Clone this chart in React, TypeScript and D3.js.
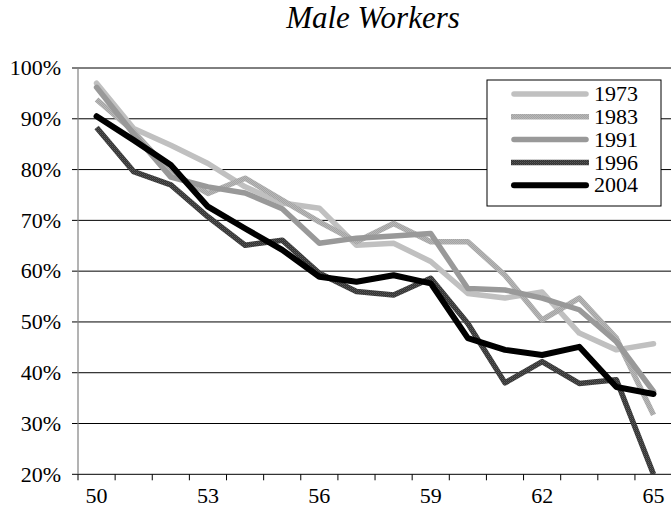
import React from "react";
import * as d3 from "d3";

const ages = [50, 51, 52, 53, 54, 55, 56, 57, 58, 59, 60, 61, 62, 63, 64, 65];
const ageLabels = [50, 53, 56, 59, 62, 65];
const yTicks = [20, 30, 40, 50, 60, 70, 80, 90, 100];

const s1973 = [97, 88.1, 84.8, 81.2, 76.6, 73.4, 72.4, 65.1, 65.5, 61.9, 55.6, 54.7, 55.9, 47.8, 44.5, 45.7];
const s1983 = [93.8, 87.5, 79.5, 75.3, 78.3, 74, 69.7, 65.8, 69.4, 65.8, 65.8, 59.2, 50.4, 54.7, 46.8, 31.7];
const s1991 = [96.2, 87, 78.5, 76.6, 75.4, 72.3, 65.5, 66.5, 66.9, 67.4, 56.6, 56.3, 54.7, 52.4, 46.1, 36.3];
const s1996 = [88.3, 79.6, 77, 70.7, 65.1, 66.1, 59.6, 56, 55.3, 58.6, 49.7, 38, 42.2, 37.9, 38.6, 20];
const s2004 = [90.5, 85.8, 80.9, 72.7, 68.4, 64.2, 58.9, 57.9, 59.2, 57.6, 46.8, 44.5, 43.5, 45.1, 37.2, 35.8];

const seriesNames = ["1973", "1983", "1991", "1996", "2004"];
const seriesData = [s1973, s1983, s1991, s1996, s2004];

const styles = [
  { stroke: "#c0c0c0", cap: "round", w: 5.5 },
  { stroke: "url(#pat1983)", cap: "butt", w: 5.5 },
  { stroke: "#999999", cap: "round", w: 5.5 },
  { stroke: "url(#pat1996)", cap: "butt", w: 5.5 },
  { stroke: "#000000", cap: "round", w: 6 },
];

const FONT = "Liberation Serif, Times New Roman, Times, serif";

export default function App() {
  const W = 671, H = 521;
  const left = 78, right = 78 + 16 * 37.13, top = 68, bottom = 474.3;
  const x = d3.scaleBand<number>().domain(ages).range([left, right]).paddingInner(0).paddingOuter(0);
  const y = d3.scaleLinear().domain([20, 100]).range([bottom, top]);
  const cx = (a: number) => (x(a) as number) + x.bandwidth() / 2;
  const line = d3.line<number>().x((_, i) => cx(ages[i])).y((v) => y(v)).curve(d3.curveLinear);
  const bounds = [...ages.map((a) => x(a) as number), right];

  const legX = 487, legY = 80, legW = 174, legH = 126;
  const rowY = (i: number) => 94 + i * 22.8;
  const tstyle = { fontFamily: FONT };

  return (
    <svg width={W} height={H} style={{ position: "absolute", left: 0, top: 0, background: "#fff", fontFamily: FONT }}>
      <defs>
        <pattern id="pat1983" patternUnits="userSpaceOnUse" width="2" height="2">
          <rect width="2" height="2" fill="#b8b8b8" />
          <rect width="1" height="1" fill="#a4a4a4" />
          <rect x="1" y="1" width="1" height="1" fill="#a4a4a4" />
        </pattern>
        <pattern id="pat1996" patternUnits="userSpaceOnUse" width="2" height="2">
          <rect width="2" height="2" fill="#333333" />
          <rect width="1" height="1" fill="#5a5a5a" />
          <rect x="1" y="1" width="1" height="1" fill="#474747" />
        </pattern>
        <clipPath id="plotClip">
          <rect x={left} y={0} width={W - left} height={bottom} />
        </clipPath>
      </defs>
      <rect width={W} height={H} fill="#fff" />
      <text x={373} y={28} textAnchor="middle" fontSize={31} fontStyle="italic" fill="#000" style={tstyle}>Male Workers</text>

      {yTicks.map((t) => (
        <g key={t}>
          <line x1={left - 6} x2={W} y1={y(t)} y2={y(t)} stroke="#000" strokeWidth={1} />
          <text x={61} y={y(t)} dy="0.33em" textAnchor="end" fontSize={22} fill="#000" style={tstyle}>{t}%</text>
        </g>
      ))}
      <line x1={left} x2={left} y1={top} y2={bottom} stroke="#808080" strokeWidth={1.2} />
      {bounds.map((b, i) => (
        <line key={i} x1={b} x2={b} y1={bottom} y2={bottom + 6} stroke="#000" strokeWidth={1} />
      ))}
      {ageLabels.map((a) => (
        <text key={a} x={cx(a)} y={503} textAnchor="middle" fontSize={22} fill="#000" style={tstyle}>{a}</text>
      ))}

      <g clipPath="url(#plotClip)">
        {seriesData.map((d, i) => (
          <path key={i} d={line(d) || ""} fill="none" stroke={styles[i].stroke} strokeWidth={styles[i].w}
            strokeLinejoin="round" strokeLinecap={styles[i].cap as any} />
        ))}
      </g>

      <rect x={legX} y={legY} width={legW} height={legH} fill="#fff" stroke="#000" strokeWidth={1} />
      {seriesNames.map((n, i) => (
        <g key={n}>
          <line x1={styles[i].cap === "round" ? 514 : 511} x2={styles[i].cap === "round" ? 586 : 589}
            y1={rowY(i)} y2={rowY(i)} stroke={styles[i].stroke} strokeWidth={styles[i].w}
            strokeLinecap={styles[i].cap as any} />
          <text x={594} y={rowY(i)} dy="0.33em" fontSize={22} fill="#000" style={tstyle}>{n}</text>
        </g>
      ))}
    </svg>
  );
}
